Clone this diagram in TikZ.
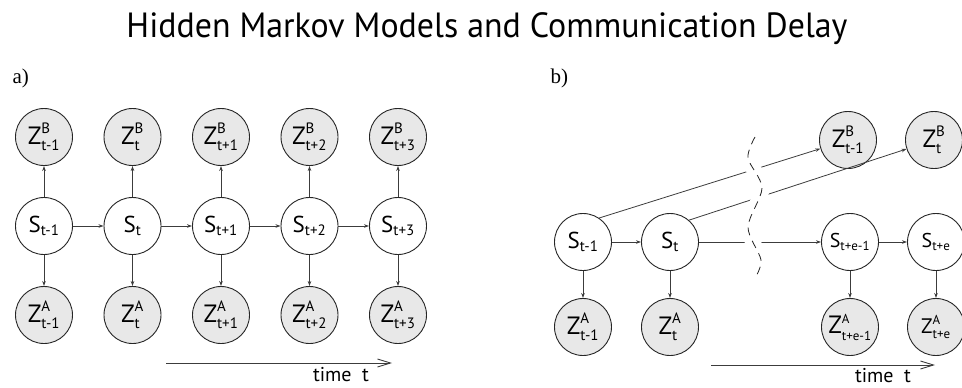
\documentclass[tikz,border=0pt]{standalone}
\usepackage{fontspec}
\setmainfont{Liberation Serif}
\setsansfont{PT Sans}
\usetikzlibrary{arrows.meta}

\definecolor{obsgray}{RGB}{232,232,232}
\definecolor{edgegray}{RGB}{60,60,60}
\newcommand{\subsz}{\fontsize{15}{15}\selectfont}
\newcommand{\smsz}{\fontsize{13}{13}\selectfont}
\newcommand{\zlab}[2]{$\mbox{Z}^{\mbox{\subsz #1}}_{\mbox{\subsz #2}}$}
\newcommand{\slab}[1]{$\mbox{S}_{\mbox{\subsz #1}}$}
\newcommand{\zsmlab}[2]{$\mbox{Z}^{\mbox{\smsz #1}}_{\mbox{\smsz #2}}$}
\newcommand{\ssmlab}[1]{$\mbox{S}_{\mbox{\smsz #1}}$}

\begin{document}
\begin{tikzpicture}[x=1pt, y=-1pt,
  state/.style={draw=black!85, circle, line width=0.9pt, minimum size=57pt, inner sep=0pt,
    fill=white, font=\sffamily\fontsize{23}{23}\selectfont},
  obs/.style={state, fill=obsgray, font=\sffamily\fontsize{25}{25}\selectfont},
  edge/.style={draw=edgegray, line width=0.8pt, -{Stealth[length=5pt,width=3.5pt]}},
  timearrow/.style={draw=edgegray, line width=0.9pt, -{Straight Barb[length=13pt,width=8pt]}},
  panel/.style={font=\fontsize{21}{21}\selectfont, anchor=base west},
  timelab/.style={font=\sffamily\fontsize{20}{20}\selectfont, anchor=base}]
    \useasboundingbox (0,0) rectangle (962,388);

    % Title
    \node[font=\sffamily\fontsize{35}{35}\selectfont, anchor=base] (title) at (487,37)
      {\resizebox{721pt}{\height}{Hidden Markov Models and Communication Delay}};
    \node[panel] (pa) at (9,83) {a)};
    \node[panel] (pb) at (547,83) {b)};

    % a) hidden states with both observations
    \foreach \i/\lab in {0/t-1, 1/t, 2/t+1, 3/t+2, 4/t+3} {
      \node[state] (s\i) at ({44+88.5*\i}, 226) {\slab{\lab}};
      \node[obs] (zb\i) at ({44+88.5*\i}, 137) {\zlab{B}{\lab}};
      \node[obs] (za\i) at ({44+88.5*\i}, 315) {\zlab{A}{\lab}};
      \draw[edge] (s\i) -- (zb\i);
      \draw[edge] (s\i) -- (za\i);
    }
    \foreach \i [count=\j] in {0,...,3} {
      \draw[edge] (s\i) -- (s\j);
    }

    % time axis
    \coordinate (ta0) at (166,363);
    \coordinate (ta1) at (392,363);
    \draw[timearrow] (ta0) -- (ta1);
    \node[timelab] (tla) at (341,381) {time~ t};

    % b) delayed observations
    \node[state] (bs0) at (583,242) {\slab{t-1}};
    \node[state] (bs1) at (670,242) {\slab{t}};
    \node[state, font=\sffamily\fontsize{20}{20}\selectfont] (bs2) at (850,242) {\ssmlab{t+e-1}};
    \node[state, font=\sffamily\fontsize{20}{20}\selectfont] (bs3) at (936,242) {\ssmlab{t+e}};

    \node[obs] (bzb0) at (848,140) {\zlab{B}{t-1}};
    \node[obs] (bzb1) at (934,140) {\zlab{B}{t}};

    \node[obs] (bza0) at (583,327) {\zlab{A}{t-1}};
    \node[obs] (bza1) at (670,327) {\zlab{A}{t}};
    \node[obs] (bza2) at (850,327) {\zsmlab{A}{t+e-1}};
    \node[obs, font=\sffamily\fontsize{21}{21}\selectfont] (bza3) at (936,327) {\zsmlab{A}{t+e}};

    \foreach \i in {0,...,3} {
      \draw[edge] (bs\i) -- (bza\i);
    }
    \draw[edge] (bs0) -- (bs1);
    \draw[edge] (bs1) -- (bs2);
    \draw[edge] (bs2) -- (bs3);
    \draw[edge] (bs0.56) -- (bzb0);
    \draw[edge] (bs1.49) -- (bzb1);

    % break in time
    \draw[white, line width=15pt] plot[smooth] coordinates
      {(755,137) (748,158) (762,188) (748,227) (761,260) (755,278)};
    \draw[black!85, line width=0.8pt, dash pattern=on 8pt off 6pt] plot[smooth] coordinates
      {(755,137) (748,158) (762,188) (748,227) (761,260) (755,278)};

    \coordinate (tb0) at (711,365);
    \coordinate (tb1) at (935,365);
    \draw[timearrow] (tb0) -- (tb1);
    \node[timelab] (tlb) at (883,382) {time~ t};
\end{tikzpicture}
\end{document}
